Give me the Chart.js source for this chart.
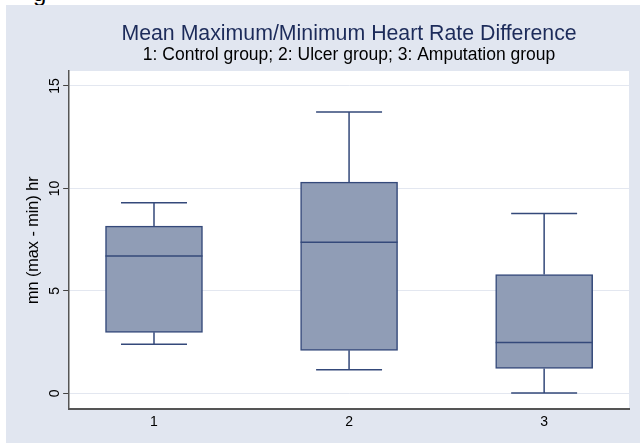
<!DOCTYPE html>
<html>
<head>
<meta charset="utf-8">
<script src="https://cdn.jsdelivr.net/npm/chart.js@4"></script>
<style>
  html, body { margin: 0; padding: 0; background: #ffffff; overflow: hidden; }
  #wrap { position: absolute; left: 6px; top: 5px; width: 634px; height: 438px; }
  #clip { position: absolute; left: 33px; top: -21px; font: 24px "Liberation Sans", Arial, sans-serif; color: #000; }
</style>
</head>
<body>
<div id="clip">g</div>
<div id="wrap"><canvas id="myChart" width="634" height="438"></canvas></div>
<script>
// groups and box plot values
var categories = [1, 2, 3];
var whiskerLow = [2.40, 1.15, 0.02];
var q1 = [2.98, 2.10, 1.22];
var median = [6.70, 7.38, 2.48];
var q3 = [8.16, 10.31, 5.80];
var whiskerHigh = [9.30, 13.73, 8.78];
var yTicks = [0, 5, 10, 15];

var panelColor = '#e1e6f0';
var boxFill = '#909db6';
var boxLine = '#34497a';

// background panel + white plot region
var background = {
    id: 'background',
    beforeDraw: function (chart) {
        var ctx = chart.ctx, a = chart.chartArea;
        ctx.save();
        ctx.fillStyle = panelColor;
        ctx.fillRect(0, 0, chart.width, chart.height);
        ctx.fillStyle = '#ffffff';
        ctx.fillRect(a.left, a.top, a.right - a.left, a.bottom - a.top);
        ctx.restore();
    }
};

// whiskers, caps and medians
var whiskers = {
    id: 'whiskers',
    afterDatasetsDraw: function (chart) {
        var ctx = chart.ctx;
        var xs = chart.scales.x, ys = chart.scales.y;
        var bars = chart.getDatasetMeta(0).data;
        ctx.save();
        ctx.strokeStyle = boxLine;
        ctx.lineWidth = 1.5;
        for (var i = 0; i < categories.length; i++) {
            var x = xs.getPixelForValue(categories[i]);
            var half = bars[i].width / 2;
            var cap = half * 0.68;
            ctx.beginPath();
            ctx.moveTo(x, ys.getPixelForValue(q3[i]));
            ctx.lineTo(x, ys.getPixelForValue(whiskerHigh[i]));
            ctx.moveTo(x, ys.getPixelForValue(q1[i]));
            ctx.lineTo(x, ys.getPixelForValue(whiskerLow[i]));
            ctx.moveTo(x - cap, ys.getPixelForValue(whiskerHigh[i]));
            ctx.lineTo(x + cap, ys.getPixelForValue(whiskerHigh[i]));
            ctx.moveTo(x - cap, ys.getPixelForValue(whiskerLow[i]));
            ctx.lineTo(x + cap, ys.getPixelForValue(whiskerLow[i]));
            ctx.moveTo(x - half, ys.getPixelForValue(median[i]));
            ctx.lineTo(x + half, ys.getPixelForValue(median[i]));
            ctx.stroke();
        }
        ctx.restore();
    }
};

// rotated y tick labels
var yLabels = {
    id: 'yLabels',
    afterDraw: function (chart) {
        var ctx = chart.ctx, ys = chart.scales.y;
        ctx.save();
        ctx.fillStyle = '#000';
        ctx.font = '14px "Liberation Sans", Arial, sans-serif';
        ctx.textAlign = 'center';
        ctx.textBaseline = 'middle';
        yTicks.forEach(function (v) {
            ctx.save();
            ctx.translate(chart.chartArea.left - 14, ys.getPixelForValue(v));
            ctx.rotate(-Math.PI / 2);
            ctx.fillText(String(v), 0, 0);
            ctx.restore();
        });
        ctx.restore();
    }
};

Chart.defaults.font.family = '"Liberation Sans", Arial, sans-serif';
Chart.defaults.color = '#000';

var ctx = document.getElementById('myChart').getContext('2d');
var myChart = new Chart(ctx, {
    type: 'bar',
    data: {
        datasets: [{
            data: categories.map(function (c, i) { return { x: c, y: [q1[i], q3[i]] }; }),
            backgroundColor: boxFill,
            borderColor: boxLine,
            borderWidth: 1.5,
            borderSkipped: false,
            barThickness: 97
        }]
    },
    options: {
        responsive: false,
        animation: false,
        layout: { padding: { left: 10, right: 11, top: 5, bottom: 7.6 } },
        plugins: {
            legend: { display: false },
            tooltip: { enabled: false },
            title: {
                display: true,
                text: 'Mean Maximum/Minimum Heart Rate Difference',
                color: '#1c2b5a',
                font: { size: 21.3, weight: 'normal', lineHeight: 1 },
                fullSize: false,
                padding: { top: 13.3, bottom: 0 }
            },
            subtitle: {
                display: true,
                text: '1: Control group; 2: Ulcer group; 3: Amputation group',
                color: '#000',
                font: { size: 17.5, lineHeight: 1 },
                fullSize: false,
                padding: { top: 1.7, bottom: 7.2 }
            }
        },
        scales: {
            x: {
                type: 'linear',
                offset: false,
                min: 0.565,
                max: 3.435,
                afterBuildTicks: function (scale) {
                    scale.ticks = categories.map(function (c) { return { value: c }; });
                },
                ticks: {
                    font: { size: 14 },
                    padding: 4.6,
                    callback: function (v) { return String(v); }
                },
                grid: { display: false, drawTicks: false, offset: false },
                border: { display: true, color: '#555', width: 2 }
            },
            y: {
                min: -0.78,
                max: 15.73,
                afterBuildTicks: function (scale) {
                    scale.ticks = yTicks.map(function (v) { return { value: v }; });
                },
                ticks: { display: false },
                grid: { color: '#e3e7f0', lineWidth: 1, tickColor: '#444', tickLength: 6 },
                border: { display: true, color: '#555', width: 1.5 },
                title: {
                    display: true,
                    text: 'mn (max - min) hr',
                    font: { size: 16.2 },
                    color: '#000',
                    padding: { top: 8.3, bottom: 19.4 }
                }
            }
        }
    },
    plugins: [background, whiskers, yLabels]
});
</script>
</body>
</html>
